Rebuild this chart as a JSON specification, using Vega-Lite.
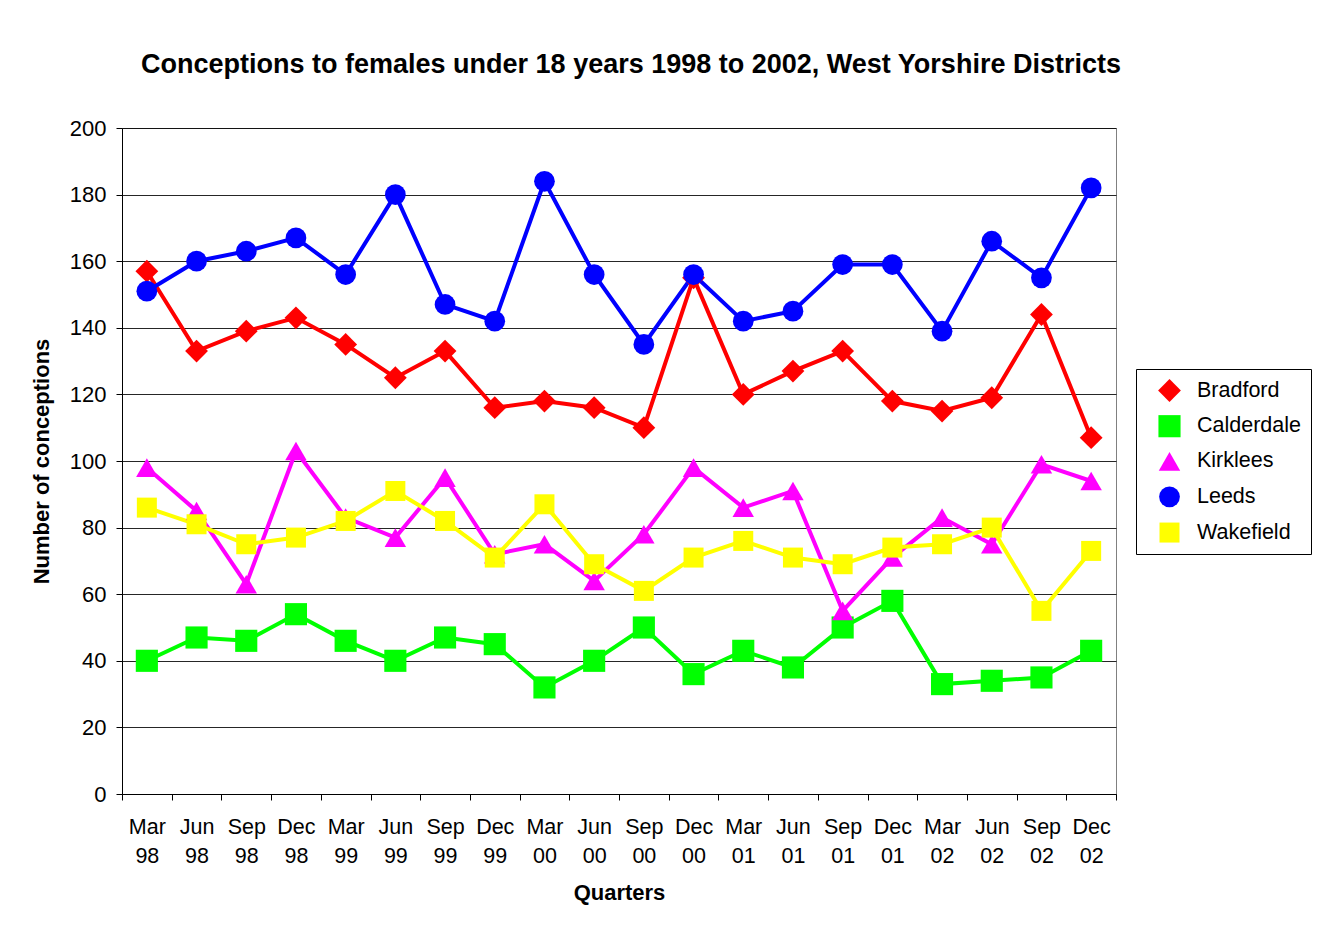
{
  "$schema": "https://vega.github.io/schema/vega-lite/v6.json",
  "width": 994,
  "height": 666,
  "autosize": {"type": "none"},
  "padding": {"left": 122, "top": 128, "right": 201, "bottom": 136},
  "background": "white",
  "title": {
    "text": "Conceptions to females under 18 years 1998 to 2002, West Yorshire Districts",
    "font": "Liberation Sans",
    "fontSize": 27,
    "fontWeight": "bold",
    "color": "black",
    "anchor": "middle",
    "offset": 38,
    "dx": 12
  },
  "config": {
    "font": "Liberation Sans",
    "view": {"stroke": "#808080", "strokeWidth": 1},
    "axis": {
      "labelFont": "Liberation Sans",
      "labelColor": "black",
      "titleFont": "Liberation Sans",
      "titleColor": "black",
      "domainColor": "black",
      "tickColor": "black"
    }
  },
  "data": {
    "values": [
      {"quarter": "Mar 98", "district": "Bradford", "value": 157},
      {"quarter": "Jun 98", "district": "Bradford", "value": 133},
      {"quarter": "Sep 98", "district": "Bradford", "value": 139},
      {"quarter": "Dec 98", "district": "Bradford", "value": 143},
      {"quarter": "Mar 99", "district": "Bradford", "value": 135},
      {"quarter": "Jun 99", "district": "Bradford", "value": 125},
      {"quarter": "Sep 99", "district": "Bradford", "value": 133},
      {"quarter": "Dec 99", "district": "Bradford", "value": 116},
      {"quarter": "Mar 00", "district": "Bradford", "value": 118},
      {"quarter": "Jun 00", "district": "Bradford", "value": 116},
      {"quarter": "Sep 00", "district": "Bradford", "value": 110},
      {"quarter": "Dec 00", "district": "Bradford", "value": 155},
      {"quarter": "Mar 01", "district": "Bradford", "value": 120},
      {"quarter": "Jun 01", "district": "Bradford", "value": 127},
      {"quarter": "Sep 01", "district": "Bradford", "value": 133},
      {"quarter": "Dec 01", "district": "Bradford", "value": 118},
      {"quarter": "Mar 02", "district": "Bradford", "value": 115},
      {"quarter": "Jun 02", "district": "Bradford", "value": 119},
      {"quarter": "Sep 02", "district": "Bradford", "value": 144},
      {"quarter": "Dec 02", "district": "Bradford", "value": 107},

      {"quarter": "Mar 98", "district": "Calderdale", "value": 40},
      {"quarter": "Jun 98", "district": "Calderdale", "value": 47},
      {"quarter": "Sep 98", "district": "Calderdale", "value": 46},
      {"quarter": "Dec 98", "district": "Calderdale", "value": 54},
      {"quarter": "Mar 99", "district": "Calderdale", "value": 46},
      {"quarter": "Jun 99", "district": "Calderdale", "value": 40},
      {"quarter": "Sep 99", "district": "Calderdale", "value": 47},
      {"quarter": "Dec 99", "district": "Calderdale", "value": 45},
      {"quarter": "Mar 00", "district": "Calderdale", "value": 32},
      {"quarter": "Jun 00", "district": "Calderdale", "value": 40},
      {"quarter": "Sep 00", "district": "Calderdale", "value": 50},
      {"quarter": "Dec 00", "district": "Calderdale", "value": 36},
      {"quarter": "Mar 01", "district": "Calderdale", "value": 43},
      {"quarter": "Jun 01", "district": "Calderdale", "value": 38},
      {"quarter": "Sep 01", "district": "Calderdale", "value": 50},
      {"quarter": "Dec 01", "district": "Calderdale", "value": 58},
      {"quarter": "Mar 02", "district": "Calderdale", "value": 33},
      {"quarter": "Jun 02", "district": "Calderdale", "value": 34},
      {"quarter": "Sep 02", "district": "Calderdale", "value": 35},
      {"quarter": "Dec 02", "district": "Calderdale", "value": 43},

      {"quarter": "Mar 98", "district": "Kirklees", "value": 98},
      {"quarter": "Jun 98", "district": "Kirklees", "value": 85},
      {"quarter": "Sep 98", "district": "Kirklees", "value": 63},
      {"quarter": "Dec 98", "district": "Kirklees", "value": 103},
      {"quarter": "Mar 99", "district": "Kirklees", "value": 83},
      {"quarter": "Jun 99", "district": "Kirklees", "value": 77},
      {"quarter": "Sep 99", "district": "Kirklees", "value": 95},
      {"quarter": "Dec 99", "district": "Kirklees", "value": 72},
      {"quarter": "Mar 00", "district": "Kirklees", "value": 75},
      {"quarter": "Jun 00", "district": "Kirklees", "value": 64},
      {"quarter": "Sep 00", "district": "Kirklees", "value": 78},
      {"quarter": "Dec 00", "district": "Kirklees", "value": 98},
      {"quarter": "Mar 01", "district": "Kirklees", "value": 86},
      {"quarter": "Jun 01", "district": "Kirklees", "value": 91},
      {"quarter": "Sep 01", "district": "Kirklees", "value": 55},
      {"quarter": "Dec 01", "district": "Kirklees", "value": 71},
      {"quarter": "Mar 02", "district": "Kirklees", "value": 83},
      {"quarter": "Jun 02", "district": "Kirklees", "value": 75},
      {"quarter": "Sep 02", "district": "Kirklees", "value": 99},
      {"quarter": "Dec 02", "district": "Kirklees", "value": 94},

      {"quarter": "Mar 98", "district": "Leeds", "value": 151},
      {"quarter": "Jun 98", "district": "Leeds", "value": 160},
      {"quarter": "Sep 98", "district": "Leeds", "value": 163},
      {"quarter": "Dec 98", "district": "Leeds", "value": 167},
      {"quarter": "Mar 99", "district": "Leeds", "value": 156},
      {"quarter": "Jun 99", "district": "Leeds", "value": 180},
      {"quarter": "Sep 99", "district": "Leeds", "value": 147},
      {"quarter": "Dec 99", "district": "Leeds", "value": 142},
      {"quarter": "Mar 00", "district": "Leeds", "value": 184},
      {"quarter": "Jun 00", "district": "Leeds", "value": 156},
      {"quarter": "Sep 00", "district": "Leeds", "value": 135},
      {"quarter": "Dec 00", "district": "Leeds", "value": 156},
      {"quarter": "Mar 01", "district": "Leeds", "value": 142},
      {"quarter": "Jun 01", "district": "Leeds", "value": 145},
      {"quarter": "Sep 01", "district": "Leeds", "value": 159},
      {"quarter": "Dec 01", "district": "Leeds", "value": 159},
      {"quarter": "Mar 02", "district": "Leeds", "value": 139},
      {"quarter": "Jun 02", "district": "Leeds", "value": 166},
      {"quarter": "Sep 02", "district": "Leeds", "value": 155},
      {"quarter": "Dec 02", "district": "Leeds", "value": 182},

      {"quarter": "Mar 98", "district": "Wakefield", "value": 86},
      {"quarter": "Jun 98", "district": "Wakefield", "value": 81},
      {"quarter": "Sep 98", "district": "Wakefield", "value": 75},
      {"quarter": "Dec 98", "district": "Wakefield", "value": 77},
      {"quarter": "Mar 99", "district": "Wakefield", "value": 82},
      {"quarter": "Jun 99", "district": "Wakefield", "value": 91},
      {"quarter": "Sep 99", "district": "Wakefield", "value": 82},
      {"quarter": "Dec 99", "district": "Wakefield", "value": 71},
      {"quarter": "Mar 00", "district": "Wakefield", "value": 87},
      {"quarter": "Jun 00", "district": "Wakefield", "value": 69},
      {"quarter": "Sep 00", "district": "Wakefield", "value": 61},
      {"quarter": "Dec 00", "district": "Wakefield", "value": 71},
      {"quarter": "Mar 01", "district": "Wakefield", "value": 76},
      {"quarter": "Jun 01", "district": "Wakefield", "value": 71},
      {"quarter": "Sep 01", "district": "Wakefield", "value": 69},
      {"quarter": "Dec 01", "district": "Wakefield", "value": 74},
      {"quarter": "Mar 02", "district": "Wakefield", "value": 75},
      {"quarter": "Jun 02", "district": "Wakefield", "value": 80},
      {"quarter": "Sep 02", "district": "Wakefield", "value": 55},
      {"quarter": "Dec 02", "district": "Wakefield", "value": 73}
    ]
  },
  "encoding": {
    "x": {
      "field": "quarter",
      "type": "ordinal",
      "sort": ["Mar 98","Jun 98","Sep 98","Dec 98","Mar 99","Jun 99","Sep 99","Dec 99","Mar 00","Jun 00","Sep 00","Dec 00","Mar 01","Jun 01","Sep 01","Dec 01","Mar 02","Jun 02","Sep 02","Dec 02"],
      "scale": {"type": "band", "paddingInner": 0, "paddingOuter": 0},
      "axis": {
        "title": "Quarters",
        "titleFontSize": 22,
        "titleFontWeight": "bold",
        "titlePadding": 16,
        "labelFontSize": 21.5,
        "labelAngle": 0,
        "labelExpr": "split(datum.label, ' ')",
        "labelLineHeight": 29,
        "labelPadding": 16,
        "labelOverlap": false,
        "tickBand": "extent",
        "tickSize": 6,
        "domainWidth": 1,
        "grid": false
      }
    },
    "y": {
      "field": "value",
      "type": "quantitative",
      "scale": {"domain": [0, 200], "nice": false},
      "axis": {
        "title": "Number of conceptions",
        "titleFontSize": 22,
        "titleFontWeight": "bold",
        "titlePadding": 16,
        "labelFontSize": 22,
        "labelPadding": 10,
        "labelOverlap": false,
        "values": [0,20,40,60,80,100,120,140,160,180,200],
        "tickSize": 6,
        "grid": true,
        "gridColor": "black",
        "gridOpacity": 0.85,
        "gridWidth": 1
      }
    },
    "color": {
      "field": "district",
      "type": "nominal",
      "scale": {
        "domain": ["Bradford", "Calderdale", "Kirklees", "Leeds", "Wakefield"],
        "range": ["#FF0000", "#00FF00", "#FF00FF", "#0000FF", "#FFFF00"]
      },
      "legend": {
        "title": null,
        "orient": "none",
        "legendX": 1014,
        "legendY": 241,
        "labelFontSize": 21.5,
        "labelColor": "black",
        "labelFont": "Liberation Sans",
        "strokeColor": "black",
        "fillColor": "white",
        "padding": 10,
        "rowPadding": 12.7,
        "symbolSize": 260,
        "symbolStrokeWidth": 0,
        "symbolOffset": 12,
        "labelOffset": 16
      }
    }
  },
  "layer": [
    {
      "mark": {"type": "line", "strokeWidth": 4},
      "encoding": {"detail": {"field": "district"}}
    },
    {
      "mark": {"type": "point", "filled": true, "opacity": 1},
      "encoding": {
        "shape": {
          "field": "district",
          "type": "nominal",
          "scale": {
            "domain": ["Bradford", "Calderdale", "Kirklees", "Leeds", "Wakefield"],
            "range": ["diamond", "square", "triangle-up", "circle", "square"]
          },
          "legend": {
            "title": null,
            "orient": "none",
            "legendX": 1014,
            "legendY": 241
          }
        },
        "size": {
          "field": "district",
          "type": "nominal",
          "scale": {
            "domain": ["Bradford", "Calderdale", "Kirklees", "Leeds", "Wakefield"],
            "range": [520, 400, 640, 290, 400]
          },
          "legend": null
        }
      }
    }
  ]
}
